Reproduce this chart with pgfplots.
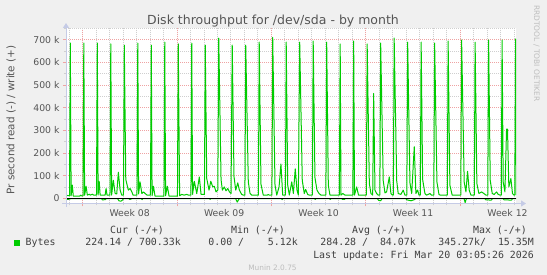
\documentclass[border=0pt]{standalone}
\usepackage{fontspec}
\setmainfont{DejaVu Sans}
\newfontfamily\monofont{DejaVu Sans Mono}
\usepackage{pgfplots}
\usepackage{pgfplotstable}
\pgfplotsset{compat=1.18}
\usetikzlibrary{arrows.meta}
\definecolor{bg}{HTML}{F0F0F0}
\definecolor{mgreen}{HTML}{00CC00}
\definecolor{majgrid}{HTML}{EFA3A3}
\definecolor{mingrid}{HTML}{CFCFCF}
\definecolor{axblue}{HTML}{C5CBE6}
\definecolor{txt}{HTML}{555555}
\definecolor{legtxt}{HTML}{404040}
\definecolor{faint}{HTML}{BDBDBD}

% write (+), in k bytes/s; x in days from Mon Feb 16 00:00
\pgfplotstableread{
x y
-1.22 14
-0.96 12
-0.90 685
-0.84 12
-0.75 59
-0.68 10
-0.20 10
-0.13 15
-0.04 11
0.04 12
0.10 685
0.16 14
0.27 54
0.36 15
0.51 19
0.58 15
0.74 19
0.82 15
1.04 15
1.10 685
1.16 15
1.24 76
1.31 15
1.68 15
1.75 44
1.82 15
2.04 15
2.10 681
2.16 15
2.29 80
2.42 22
2.54 20
2.66 116
2.79 37
2.91 15
3.04 15
3.10 676
3.21 84
3.40 37
3.53 44
3.66 29
3.75 15
4.04 15
4.10 685
4.16 20
4.27 73
4.40 22
4.52 29
4.64 22
4.79 15
5.04 15
5.10 676
5.16 12
5.26 54
5.38 10
6.04 10
6.10 689
6.16 12
6.29 54
6.42 10
7.04 10
7.10 681
7.20 12
7.36 18
7.53 15
7.73 18
7.85 15
8.04 15
8.10 685
8.16 18
8.29 76
8.47 22
8.66 95
8.79 18
9.04 18
9.10 676
9.21 88
9.38 37
9.51 76
9.66 51
9.77 54
9.90 29
10.03 37
10.10 707
10.27 84
10.37 37
10.51 51
10.64 34
10.77 44
10.89 29
11.01 22
11.10 676
11.23 97
11.36 37
11.51 69
11.63 37
11.80 18
11.92 15
12.04 15
12.10 676
12.29 73
12.42 22
12.54 15
13.04 15
13.10 689
13.23 63
13.40 15
13.70 15
13.77 18
13.84 15
14.04 15
14.10 710
14.27 59
14.40 15
14.57 51
14.71 152
14.84 15
15.04 15
15.10 689
15.21 59
15.33 15
15.51 73
15.63 22
15.77 130
15.90 37
16.00 15
16.10 689
16.29 80
16.44 22
16.54 40
16.69 18
16.80 15
17.04 15
17.10 694
17.23 92
17.38 37
17.53 22
17.68 15
18.04 15
18.10 689
18.22 59
18.34 15
19.04 15
19.10 681
19.16 15
19.29 22
19.46 15
20.04 15
20.10 694
20.16 15
20.32 51
20.46 15
21.04 15
21.10 681
21.26 66
21.38 22
21.51 15
21.58 463
21.68 37
21.80 22
21.92 15
22.04 15
22.10 685
22.29 78
22.42 25
22.54 29
22.74 95
22.86 22
22.98 15
23.04 15
23.10 707
23.29 78
23.40 22
23.60 18
23.77 37
23.90 15
24.04 15
24.10 689
24.27 69
24.40 22
24.59 228
24.71 22
24.84 37
24.94 15
25.04 15
25.10 689
25.21 84
25.38 22
25.50 15
25.63 18
25.75 22
25.86 15
26.04 15
26.10 685
26.27 73
26.42 18
26.52 15
27.04 15
27.10 694
27.23 59
27.40 15
28.04 15
28.10 698
28.29 73
28.42 29
28.54 120
28.66 37
28.79 15
29.04 15
29.10 689
29.23 66
29.38 22
29.58 29
29.75 22
29.90 15
30.04 15
30.10 698
30.22 80
30.37 22
30.51 18
30.69 29
30.81 18
30.95 15
31.04 15
31.10 698
31.18 73
31.31 29
31.43 306
31.50 306
31.60 51
31.75 88
31.87 22
31.98 15
32.04 15
32.10 703
32.16 15
}\writedata

% read (-), plotted negative, in k bytes/s
\pgfplotstableread{
x y
-1.22 0
-1.15 -4
-0.95 -3
-0.88 0
1.40 0
1.48 -6
1.70 -5
1.78 0
2.60 0
2.70 -10
2.85 -12
2.98 -6
3.05 0
3.42 0
3.50 -4
3.60 -3
3.66 0
4.36 0
4.42 -5
4.48 0
9.40 0
9.46 -4
9.52 0
11.35 0
11.47 -16
11.58 -4
11.65 0
14.74 0
14.80 -5
14.86 0
17.19 0
17.25 -4
17.31 0
18.30 0
18.36 -4
18.42 0
19.20 0
19.27 -4
19.42 -4
19.49 0
21.85 0
21.95 -8
22.10 -10
22.20 0
23.95 0
24.05 -6
24.35 -10
24.60 -5
24.70 0
28.28 0
28.36 -18
28.44 -3
28.50 0
29.80 0
29.90 -6
30.30 -7
30.40 0
31.15 0
31.25 -6
31.80 -7
31.88 0
32.16 0
}\readdata

\begin{document}
\begin{tikzpicture}[x=1pt,y=1pt]
\fill[bg] (0,0) rectangle (547,275);
\begin{axis}[
  at={(66pt,71.5pt)}, anchor=south west,
  scale only axis, width=450pt, height=175.2pt,
  xmin=-1.22, xmax=32.13, ymin=-22, ymax=750,
  axis background/.style={fill=white},
  axis line style={draw=none},
  xtick={0,7,14,21,28}, xticklabels={},
  minor xtick={-1,0,...,32},
  extra x ticks={3.5,10.5,17.5,24.5,31.5},
  extra x tick labels={Week 08,Week 09,Week 10,Week 11,Week 12},
  extra x tick style={major tick length=0pt, grid=none,
     xticklabel style={yshift=-2.5pt}},
  ytick={0,100,...,700},
  yticklabels={0\hspace{6pt},100 k,200 k,300 k,400 k,500 k,600 k,700 k},
  minor ytick={50,150,...,750},
  grid=both,
  major grid style={majgrid, line width=0.8pt, dash pattern=on 1pt off 1pt},
  minor grid style={mingrid, line width=0.8pt, dash pattern=on 1pt off 1pt},
  tick align=outside, xtick pos=left, ytick pos=left,
  major tick length=3pt, minor tick length=2pt,
  every major tick/.append style={majgrid, line width=0.8pt},
  every minor tick/.append style={mingrid, line width=0.8pt},
  ticklabel style={font=\fontsize{9.3}{11}\selectfont, text=txt},
]
\addplot[mgreen, line width=1pt, line join=round] table[x=x,y=y] {\readdata};
\addplot[black, line width=1.3pt] coordinates {(-1.22,0) (32.13,0)};
\addplot[mgreen, line width=1pt, line join=round] table[x=x,y=y] {\writedata};
\end{axis}
% axis lines with arrows
\draw[axblue, line width=1pt, -{Triangle[width=6pt,length=5pt]}] (66,68) -- (66,252);
\draw[axblue, line width=1pt, -{Triangle[width=6pt,length=5pt]}] (62,71.5) -- (526,71.5);
% title
\node[anchor=base, font=\fontsize{12.5}{14}\selectfont, text=txt, inner sep=0pt] at (273,250.5) {Disk throughput for /dev/sda - by month};
% y label
\node[rotate=90, anchor=center, font=\fontsize{10.4}{12}\selectfont, text=txt, inner sep=0pt] at (11,155) {Pr second read (-) / write (+)};
% rrdtool watermark
\node[rotate=-90, anchor=base west, font=\fontsize{7.5}{9}\selectfont, text=faint, inner sep=0pt] at (534,270) {RRDTOOL / TOBI OETIKER};
% legend
\begin{scope}[every node/.style={font=\monofont\fontsize{9.9}{11}\selectfont, text=legtxt, inner sep=0pt}]
\node[anchor=base east] at (164,41.5) {Cur~(-/+)};
\node[anchor=base east] at (285,41.5) {Min~(-/+)};
\node[anchor=base east] at (406,41.5) {Avg~(-/+)};
\node[anchor=base east] at (527,41.5) {Max~(-/+)};
\fill[mgreen] (14,29) rectangle (20,35);
\node[anchor=base west] at (25.5,29) {Bytes};
\node[anchor=base east] at (181,29) {224.14~/~700.33k};
\node[anchor=base east] at (298,29) {0.00~/~~~~5.12k};
\node[anchor=base east] at (416,29) {284.28~/~~84.07k};
\node[anchor=base east] at (534,29) {345.27k/~~15.35M};
\node[anchor=base east] at (534,16.5) {Last~update:~Fri~Mar~20~03:05:26~2026};
\end{scope}
\node[anchor=base, font=\fontsize{7.4}{9}\selectfont, text=faint, inner sep=0pt] at (272.5,4) {Munin 2.0.75};
\end{tikzpicture}
\end{document}
